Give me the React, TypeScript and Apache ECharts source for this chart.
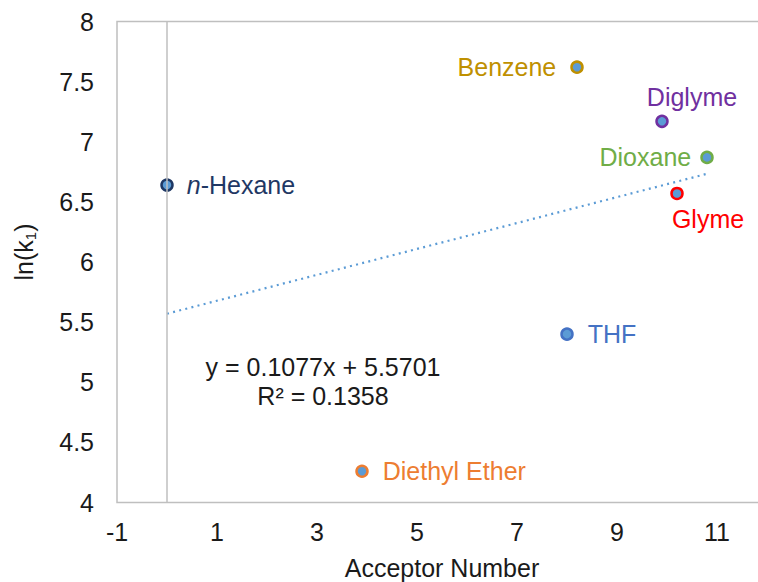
import React, { useEffect, useRef } from "react";
import * as echarts from "echarts";

// Solvent data: acceptor number vs. ln(k1)
const solvents = ["n-Hexane", "Benzene", "Diglyme", "Dioxane", "Glyme", "THF", "Diethyl Ether"];
const acceptorNumber = [0, 8.2, 9.9, 10.8, 10.2, 8.0, 3.9];
const lnK1 = [6.64, 7.62, 7.17, 6.87, 6.57, 5.4, 4.26];

// Linear trendline reported for the data set
const trendSlope = 0.1077;
const trendIntercept = 5.5701;
const rSquared = 0.1358;

const xTickLabels = [-1, 1, 3, 5, 7, 9, 11];
const yTickLabels = [4, 4.5, 5, 5.5, 6, 6.5, 7, 7.5, 8];

const FONT = "'Liberation Sans', Arial, sans-serif";
const MARKER_FILL = "#5b9bd5";
const CHART_WIDTH = 780;

// Per-solvent marker border / label colour and label placement
const solventStyle: Record<string, { color: string; label: any }> = {
  "n-Hexane": {
    color: "#1f3864",
    label: {
      position: "right",
      distance: 13,
      formatter: "{i|n}-Hexane",
      rich: {
        i: { fontStyle: "italic", color: "#1f3864", fontSize: 25, fontFamily: FONT, textBorderWidth: 0 },
      },
    },
  },
  Benzene: { color: "#bf9000", label: { position: "left", distance: 14 } },
  Diglyme: { color: "#7030a0", label: { position: "inside", offset: [30, -24] } },
  Dioxane: { color: "#70ad47", label: { position: "left", distance: 9 } },
  Glyme: { color: "#ff0000", label: { position: "inside", offset: [31, 26] } },
  THF: { color: "#4472c4", label: { position: "right", distance: 14 } },
  "Diethyl Ether": { color: "#ed7d31", label: { position: "right", distance: 14 } },
};

export default function App() {
  const ref = useRef<HTMLDivElement>(null);

  useEffect(() => {
    if (!ref.current) return;
    const chart = echarts.init(ref.current, undefined, { renderer: "svg" });

    const xMin = Math.min(...acceptorNumber);
    const xMax = Math.max(...acceptorNumber);
    const trendData = [
      [xMin, trendSlope * xMin + trendIntercept],
      [xMax, trendSlope * xMax + trendIntercept],
    ];

    const points = solvents.map((name, i) => {
      const s = solventStyle[name];
      return {
        name,
        value: [acceptorNumber[i], lnK1[i]],
        itemStyle: { color: MARKER_FILL, borderColor: s.color, borderWidth: 2.5 },
        label: {
          show: true,
          color: s.color,
          fontSize: 25,
          fontFamily: FONT,
          textBorderWidth: 0,
          textBorderColor: "transparent",
          opacity: 1,
          formatter: "{b}",
          ...s.label,
        },
      };
    });

    const eqText = `y = ${trendSlope}x + ${trendIntercept}\nR² = ${rSquared}`;

    chart.setOption({
      animation: false,
      backgroundColor: "#ffffff",
      textStyle: { fontFamily: FONT },
      grid: {
        show: true,
        left: 117,
        width: 650,
        top: 21.5,
        bottom: 79.5,
        borderColor: "#bfbfbf",
        borderWidth: 1.5,
        backgroundColor: "transparent",
        containLabel: false,
      },
      xAxis: {
        type: "value",
        min: -1,
        max: 12,
        interval: 1,
        axisLine: { show: false },
        axisTick: { show: false },
        splitLine: { show: false },
        axisLabel: {
          margin: 17,
          fontSize: 25,
          color: "#1a1a1a",
          fontFamily: FONT,
          formatter: (v: number) => (xTickLabels.includes(v) ? String(v) : ""),
        },
      },
      yAxis: {
        type: "value",
        min: 4,
        max: 8,
        interval: 0.5,
        axisLine: { show: false },
        axisTick: { show: false },
        splitLine: { show: false },
        axisLabel: {
          margin: 23,
          fontSize: 25,
          color: "#1a1a1a",
          fontFamily: FONT,
          formatter: (v: number) =>
            yTickLabels.some((t) => Math.abs(t - v) < 1e-9) ? String(v) : "",
        },
      },
      graphic: [
        {
          type: "text",
          x: 442,
          y: 568,
          style: {
            text: "Acceptor Number",
            fontSize: 25,
            fontFamily: FONT,
            fill: "#1a1a1a",
            align: "center",
            verticalAlign: "middle",
          },
        },
        {
          type: "text",
          x: 24,
          y: 252,
          rotation: Math.PI / 2,
          style: {
            text: "ln(k{sub|1})",
            fontSize: 25,
            fontFamily: FONT,
            fill: "#1a1a1a",
            align: "center",
            verticalAlign: "middle",
            rich: {
              sub: { fontSize: 15, fontFamily: FONT, fill: "#1a1a1a", verticalAlign: "bottom", padding: [12, 0, 0, 0] },
            },
          },
        },
        {
          type: "text",
          x: 323,
          y: 381,
          style: {
            text: eqText,
            fontSize: 25,
            lineHeight: 29,
            fontFamily: FONT,
            fill: "#1a1a1a",
            align: "center",
            verticalAlign: "middle",
          },
        },
      ],
      series: [
        {
          // vertical value axis drawn at x = 0
          type: "scatter",
          data: [],
          silent: true,
          markLine: {
            silent: true,
            symbol: ["none", "none"],
            label: { show: false },
            lineStyle: { color: "#bfbfbf", type: "solid", width: 1.5 },
            data: [{ xAxis: 0 }],
          },
        },
        {
          type: "line",
          data: trendData,
          showSymbol: false,
          symbol: "none",
          silent: true,
          lineStyle: { color: MARKER_FILL, width: 2.2, type: [2, 4.3] },
        },
        {
          type: "scatter",
          symbol: "circle",
          symbolSize: 11,
          itemStyle: { opacity: 1 },
          data: points,
        },
      ],
    });

    return () => chart.dispose();
  }, []);

  return (
    <div
      ref={ref}
      style={{ position: "fixed", left: 0, top: 0, width: CHART_WIDTH, height: 582 }}
    />
  );
}
